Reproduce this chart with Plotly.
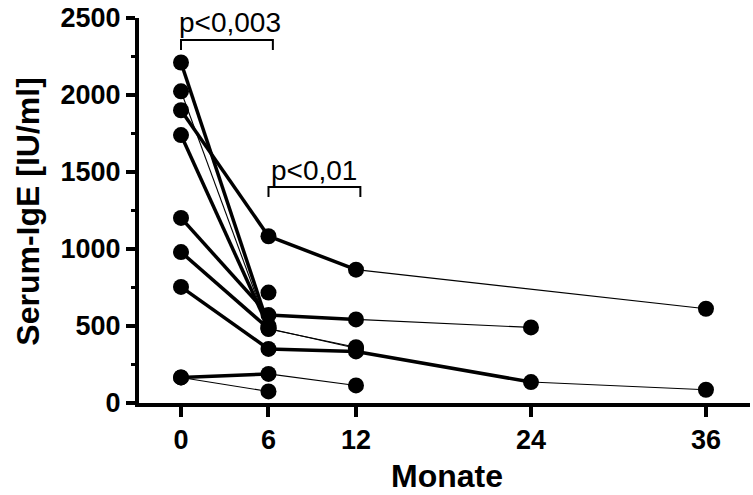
import plotly.graph_objects as go

# ---- data (months, serum IgE in IU/ml) ----
months_a = [0, 6];              ige_a = [2211, 500];                 seg_a = ["thick"]
months_b = [0, 6, 12];          ige_b = [2024, 480, 362];            seg_b = ["thin", "thin"]
months_c = [0, 6, 12, 36];      ige_c = [1901, 1083, 866, 612];      seg_c = ["thick", "thick", "thin"]
months_d = [0, 6];              ige_d = [1740, 490];                 seg_d = ["thick"]
months_e = [0, 6, 12, 24];      ige_e = [1202, 571, 543, 491];       seg_e = ["thick", "thick", "thin"]
months_f = [0, 6, 12];          ige_f = [980, 484, 356];             seg_f = ["thick", "thin"]
months_g = [0, 6, 12, 24, 36];  ige_g = [754, 351, 335, 136, 86];    seg_g = ["thick", "thick", "thick", "thin"]
months_h = [0, 6, 12];          ige_h = [166, 189, 114];             seg_h = ["thick", "thin"]
months_i = [0, 6];              ige_i = [166, 75];                   seg_i = ["thin"]
months_j = [6];                 ige_j = [717];                       seg_j = []

x_ticks = [0, 6, 12, 24, 36]
y_ticks = [0, 500, 1000, 1500, 2000, 2500]

p_labels = ["p<0,003", "p<0,01"]
bracket_from = [0, 6]
bracket_to = [6.3, 12.3]
bracket_level = [2357, 1403]
bracket_drop = [65, 65]
label_x = [3.36, 9.12]
label_y = [2468, 1513]

subjects = [
    (months_a, ige_a, seg_a), (months_b, ige_b, seg_b), (months_c, ige_c, seg_c),
    (months_d, ige_d, seg_d), (months_e, ige_e, seg_e), (months_f, ige_f, seg_f),
    (months_g, ige_g, seg_g), (months_h, ige_h, seg_h), (months_i, ige_i, seg_i),
    (months_j, ige_j, seg_j),
]

WIDTH = {"thick": 3.5, "thin": 1.1}
FONT = "Liberation Sans, Arial, Helvetica, sans-serif"

fig = go.Figure()

# connecting segments
for mx, vy, segs in subjects:
    for k, s in enumerate(segs):
        fig.add_trace(go.Scatter(
            x=mx[k:k + 2], y=vy[k:k + 2], mode="lines",
            line=dict(color="black", width=WIDTH[s]),
            hoverinfo="skip", showlegend=False, cliponaxis=False))

# markers
all_x = [v for mx, vy, s in subjects for v in mx]
all_y = [v for mx, vy, s in subjects for v in vy]
fig.add_trace(go.Scatter(
    x=all_x, y=all_y, mode="markers",
    marker=dict(color="black", size=16, line=dict(width=0)),
    showlegend=False, cliponaxis=False))

# significance brackets
for x0, x1, lv, dr in zip(bracket_from, bracket_to, bracket_level, bracket_drop):
    fig.add_trace(go.Scatter(
        x=[x0, x0, x1, x1], y=[lv - dr, lv, lv, lv - dr], mode="lines",
        line=dict(color="black", width=2), hoverinfo="skip",
        showlegend=False, cliponaxis=False))

annotations = []
for txt, lx, ly in zip(p_labels, label_x, label_y):
    annotations.append(dict(
        x=lx, y=ly, xref="x", yref="y", text=txt, showarrow=False,
        xanchor="center", yanchor="middle",
        font=dict(family=FONT, size=28, color="black")))

annotations.append(dict(
    x=-0.1817, y=0.497, xref="paper", yref="paper", text="Serum-IgE [IU/ml]",
    textangle=-90, showarrow=False, xanchor="center", yanchor="middle",
    font=dict(family=FONT, size=32, color="black", weight="bold")))
annotations.append(dict(
    x=0.504, y=-0.238, xref="paper", yref="paper", text="Monate",
    showarrow=False, xanchor="center", yanchor="bottom", borderpad=0,
    font=dict(family=FONT, size=32, color="black", weight="bold")))

fig.update_layout(
    width=753, height=495,
    margin=dict(l=139, r=3, t=18, b=92),
    paper_bgcolor="white", plot_bgcolor="white",
    annotations=annotations,
    xaxis=dict(
        range=[-2.88, 39.02], tickvals=x_ticks, ticktext=[str(v) for v in x_ticks],
        showline=True, linecolor="black", linewidth=4,
        ticks="outside", ticklen=10, tickwidth=4, tickcolor="black",
        showgrid=False, zeroline=False,
        tickfont=dict(family=FONT, size=27, color="black", weight="bold")),
    yaxis=dict(
        range=[0, 2500], tickvals=y_ticks, ticktext=[str(v) for v in y_ticks],
        showline=True, linecolor="black", linewidth=4,
        ticks="outside", ticklen=9, tickwidth=4, tickcolor="black",
        minor=dict(ticks="outside", ticklen=4, tickwidth=3, tickcolor="black",
                   dtick=250, tick0=0, showgrid=False),
        showgrid=False, zeroline=False,
        tickfont=dict(family=FONT, size=27, color="black", weight="bold")),
)

fig.write_html("out.html", config={"displayModeBar": False},
               post_script="document.body.style.margin='0px';")
